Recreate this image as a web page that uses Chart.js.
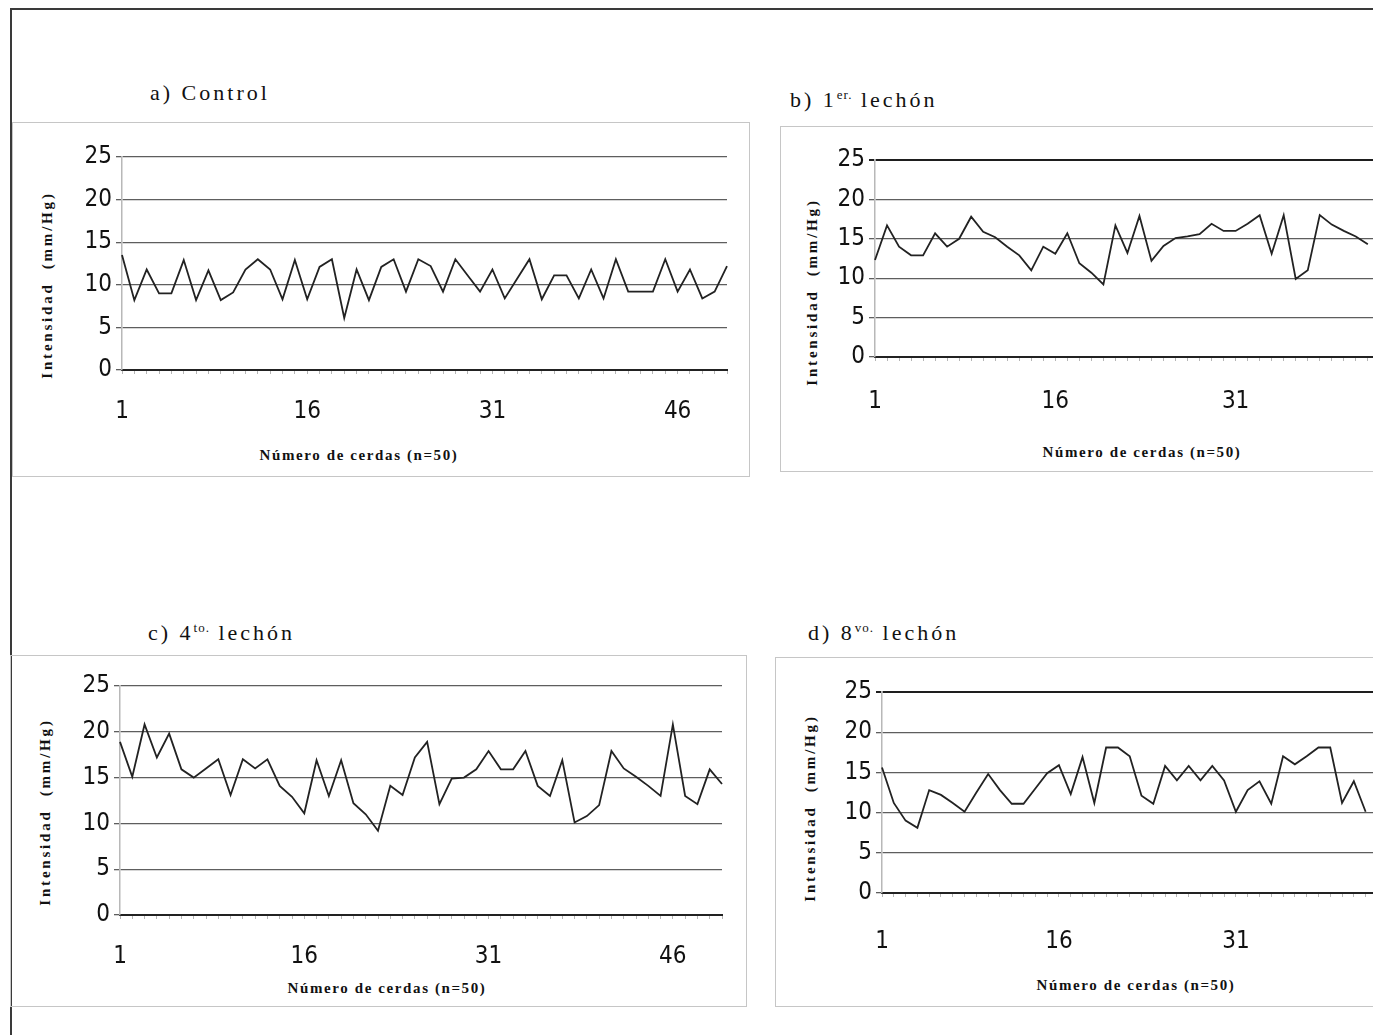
<!DOCTYPE html>
<html><head><meta charset="utf-8">
<script src="https://cdn.jsdelivr.net/npm/chart.js@4.4.1/dist/chart.umd.min.js"></script>
<style>
html,body{margin:0;padding:0;background:#fff;}
body{width:1373px;height:1035px;overflow:hidden;position:relative;}
.abs{position:absolute;}
.frame{left:10px;top:8px;width:1420px;height:1100px;border-top:2px solid #3a3a3a;border-left:2px solid #3a3a3a;}
.box{border:1.5px solid #c6c6c6;}
.ptitle{position:absolute;font-family:'Liberation Serif','Times New Roman',serif;font-size:22px;letter-spacing:3px;color:#111;white-space:nowrap;line-height:1;transform:translateY(-50%);}
.ptitle sup{font-size:13px;vertical-align:8px;line-height:0;letter-spacing:1px;}
.xt{position:absolute;font-family:'Liberation Serif','Times New Roman',serif;font-weight:bold;font-size:15px;letter-spacing:1.6px;color:#111;white-space:nowrap;line-height:1;transform:translate(-50%,-50%);}
.yt{position:absolute;font-family:'Liberation Serif','Times New Roman',serif;font-weight:bold;font-size:15px;letter-spacing:2.8px;color:#111;white-space:nowrap;line-height:1;transform:translate(-50%,-50%) rotate(-90deg);}
canvas{position:absolute;}
</style>
</head>
<body>
<div class="abs frame"></div>
<div class="abs box" style="left:12px;top:122px;width:736px;height:353px;"></div>
<div class="abs box" style="left:780px;top:126px;width:640px;height:344px;"></div>
<div class="abs box" style="left:10px;top:655px;width:735px;height:350px;"></div>
<div class="abs box" style="left:775px;top:657px;width:640px;height:348px;"></div>

<div class="ptitle" style="left:150px;top:93px;">a) Control</div>
<div class="ptitle" style="left:790px;top:100px;">b) 1<sup>er.</sup> lechón</div>
<div class="ptitle" style="left:148px;top:633px;">c) 4<sup>to.</sup> lechón</div>
<div class="ptitle" style="left:808px;top:633px;">d) 8<sup>vo.</sup> lechón</div>

<div class="yt" style="left:47px;top:285px;">Intensidad&nbsp; (mm/Hg)</div>
<div class="yt" style="left:812px;top:292px;">Intensidad&nbsp; (mm/Hg)</div>
<div class="yt" style="left:45px;top:812px;">Intensidad&nbsp; (mm/Hg)</div>
<div class="yt" style="left:810px;top:808px;">Intensidad&nbsp; (mm/Hg)</div>

<div class="xt" style="left:359px;top:455px;">Número de cerdas (n=50)</div>
<div class="xt" style="left:1142px;top:452px;">Número de cerdas (n=50)</div>
<div class="xt" style="left:387px;top:988px;">Número de cerdas (n=50)</div>
<div class="xt" style="left:1136px;top:985px;">Número de cerdas (n=50)</div>

<canvas id="cA"></canvas>
<canvas id="cB"></canvas>
<canvas id="cC"></canvas>
<canvas id="cD"></canvas>

<script>
const cerdas = ['1','2','3','4','5','6','7','8','9','10','11','12','13','14','15','16','17','18','19','20','21','22','23','24','25','26','27','28','29','30','31','32','33','34','35','36','37','38','39','40','41','42','43','44','45','46','47','48','49','50'];
const xTickLabels = ['1','16','31','46'];
const yMin = 0, yMax = 25, yStep = 5;

const control = [13.5,8.2,11.8,9.0,9.0,12.9,8.2,11.7,8.2,9.1,11.8,13.0,11.8,8.3,12.9,8.3,12.1,13.0,6.1,11.8,8.2,12.1,13.0,9.2,13.0,12.2,9.2,13.0,11.1,9.2,11.8,8.4,10.7,13.0,8.3,11.1,11.1,8.4,11.8,8.4,13.0,9.2,9.2,9.2,13.0,9.2,11.8,8.4,9.2,12.2];
const lechon1 = [12.3,16.7,14.0,12.9,12.9,15.7,14.0,15.0,17.8,15.9,15.2,14.0,12.9,11.0,14.0,13.1,15.7,11.9,10.7,9.2,16.7,13.2,17.9,12.2,14.1,15.1,15.3,15.6,16.9,16.0,16.0,16.9,18.0,13.1,18.0,9.9,11.0,18.0,16.8,16.0,15.3,14.3,null,null,null,null,null,null,null,null];
const lechon4 = [18.9,15.1,20.8,17.2,19.8,15.9,15.0,16.0,17.0,13.1,17.0,16.0,17.0,14.1,12.9,11.1,16.9,13.0,16.9,12.2,11.0,9.2,14.1,13.1,17.2,18.9,12.1,14.9,15.0,15.9,17.9,15.9,15.9,17.9,14.1,13.0,16.9,10.1,10.8,12.0,17.9,16.0,15.1,14.1,13.0,20.8,13.0,12.1,15.9,14.3];
const lechon8 = [15.6,11.2,9.0,8.1,12.8,12.2,11.2,10.1,12.5,14.8,12.8,11.1,11.1,13.0,14.9,15.9,12.3,16.9,11.2,18.1,18.1,17.0,12.1,11.1,15.8,14.0,15.8,14.0,15.8,14.0,10.1,12.8,13.9,11.1,17.0,16.0,17.0,18.1,18.1,11.2,13.9,10.1,null,null,null,null,null,null,null,null];

const TICK_FONT = "'Liberation Sans Narrow','Arial Narrow','DejaVu Sans Condensed',sans-serif";

function makePanel(id, series, g) {
  const cv = document.getElementById(id);
  cv.width = g.w; cv.height = g.h;
  cv.style.left = g.x + 'px'; cv.style.top = g.y + 'px';
  cv.style.width = g.w + 'px'; cv.style.height = g.h + 'px';
  const yW = g.plotL - g.x;
  const padTop = g.plotT - g.y;
  const padRight = g.x + g.w - g.plotR;
  const xH = g.y + g.h - g.plotB;
  new Chart(cv, {
    type: 'line',
    data: { labels: cerdas, datasets: [{ data: series, borderColor: '#222', borderWidth: 1.8, pointRadius: 0, tension: 0, fill: false, spanGaps: false }] },
    options: {
      responsive: false, animation: false, devicePixelRatio: 1,
      layout: { padding: { top: padTop, right: padRight, left: 0, bottom: 0 } },
      plugins: { legend: { display: false }, tooltip: { enabled: false }, title: { display: false } },
      scales: {
        x: {
          type: 'category', offset: false,
          grid: { display: true, drawOnChartArea: false, drawTicks: true, tickLength: 4, color: '#b5b5b5', lineWidth: 1 },
          border: { display: true, color: '#222', width: 2 },
          ticks: { autoSkip: false, maxRotation: 0, minRotation: 0, padding: g.xPad, color: '#111',
                   font: { family: TICK_FONT, size: 24 },
                   callback: (v, i) => xTickLabels.includes(cerdas[i]) ? cerdas[i] : '' },
          afterFit: (s) => { s.height = xH; }
        },
        y: {
          min: yMin, max: yMax,
          ticks: { stepSize: yStep, padding: 4, color: '#111', font: { family: TICK_FONT, size: 24 } },
          grid: { color: (c) => (g.darkTop && c.tick && c.tick.value === yMax) ? '#1e1e1e' : '#5e5e5e',
                  lineWidth: (c) => (g.darkTop && c.tick && c.tick.value === yMax) ? 2 : 1.3,
                  tickLength: 6, drawTicks: true },
          border: { display: true, color: '#b8b8b8', width: 1.5 },
          afterFit: (s) => { s.width = yW; }
        }
      }
    }
  });
}

makePanel('cA', control, { x: 15, y: 130, w: 735, h: 340, plotL: 122, plotT: 157, plotR: 731, plotB: 370, xPad: 23, darkTop: false });
makePanel('cB', lechon1, { x: 790, y: 135, w: 700, h: 335, plotL: 875, plotT: 160, plotR: 1468, plotB: 357, xPad: 26, darkTop: true });
makePanel('cC', lechon4, { x: 15, y: 662, w: 730, h: 338, plotL: 120, plotT: 686, plotR: 728, plotB: 915, xPad: 23, darkTop: false });
makePanel('cD', lechon8, { x: 790, y: 670, w: 700, h: 330, plotL: 882, plotT: 692, plotR: 1467, plotB: 893, xPad: 30, darkTop: true });
</script>
</body></html>
